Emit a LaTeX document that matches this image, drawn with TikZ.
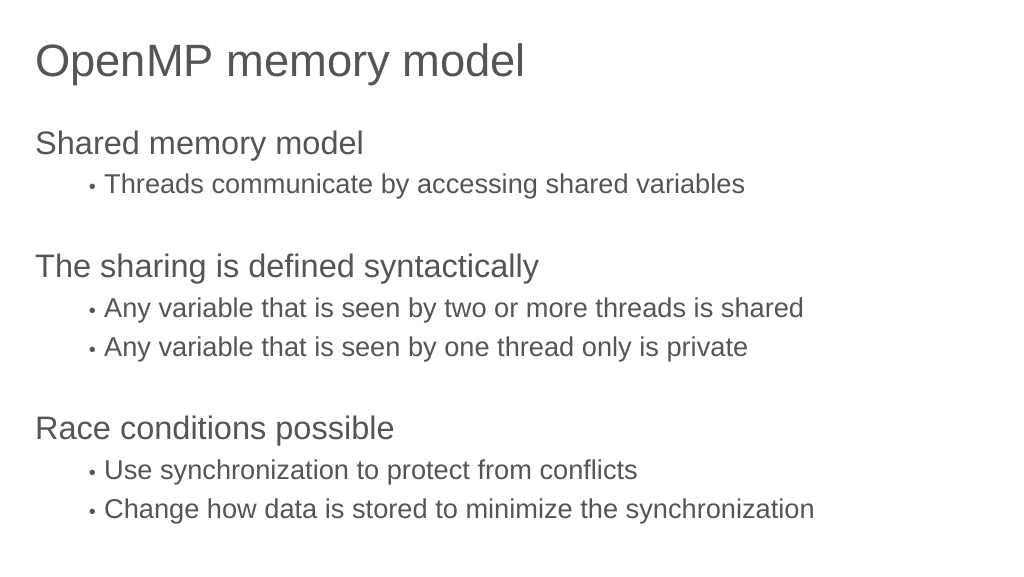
\documentclass[tikz,border=0pt]{standalone}
\usepackage{fontspec}
\setmainfont{Liberation Sans}
\definecolor{slidetext}{HTML}{555555}
\tikzset{
  title/.style={anchor=base west,inner sep=0pt,text=slidetext,font=\fontsize{45.3}{50}\selectfont},
  heading/.style={anchor=base west,inner sep=0pt,text=slidetext,font=\fontsize{32.5}{36}\selectfont},
  item/.style={anchor=base west,inner sep=0pt,text=slidetext,font=\fontsize{27.2}{31}\selectfont},
  dot/.style={anchor=base east,inner sep=0pt,text=slidetext,font=\fontsize{20}{24}\selectfont}
}
\begin{document}
\begin{tikzpicture}[x=1pt,y=-1pt]
  \useasboundingbox[fill=white] (0,0) rectangle (1024,576);
  \node[title] (ttl) at (35,76) {OpenMP memory model};
  % shared memory
  \node[heading] (h1) at (35,154) {Shared memory model};
  \node[dot] at (96,193) {•};
  \node[item] (b1) at (104,193) {Threads communicate by accessing shared variables};
  % sharing
  \node[heading] (h2) at (35,277) {The sharing is defined syntactically};
  \node[dot] at (96,317) {•};
  \node[item] (b2) at (104,317) {Any variable that is seen by two or more threads is shared};
  \node[dot] at (96,356) {•};
  \node[item] (b3) at (104,356) {Any variable that is seen by one thread only is private};
  % races
  \node[heading] (h3) at (35,439) {Race conditions possible};
  \node[dot] at (96,479) {•};
  \node[item] (b4) at (104,479) {Use synchronization to protect from conflicts};
  \node[dot] at (96,518) {•};
  \node[item] (b5) at (104,518) {Change how data is stored to minimize the synchronization};
\end{tikzpicture}
\end{document}
